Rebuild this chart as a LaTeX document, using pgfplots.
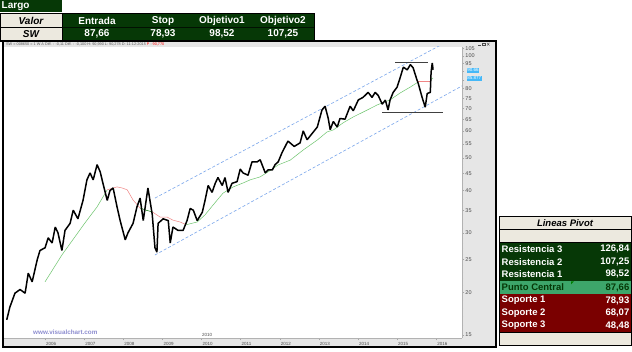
\documentclass[border=0pt]{standalone}
\usepackage{fontspec}
\setmainfont{Liberation Sans}
\usepackage{pgfplots}
\pgfplotsset{compat=1.18}
\definecolor{dkgreen}{HTML}{063806}
\definecolor{beige}{HTML}{ECE9DF}
\definecolor{midgreen}{HTML}{3DA66A}
\definecolor{dkred}{HTML}{7A0000}
\definecolor{stripgray}{HTML}{E6E6E6}
\definecolor{chanblue}{HTML}{7AA6EC}
\definecolor{tagblue}{HTML}{45B8F7}
\definecolor{magreen}{HTML}{6CC46C}
\definecolor{mared}{HTML}{F08585}
\definecolor{wwwcol}{HTML}{8E8ED0}
\begin{document}
\begin{tikzpicture}
\useasboundingbox (0,0) rectangle (632pt,-352pt);
\begin{scope}[x=1pt,y=-1pt]
  \fill[white] (3,41) rectangle (496,347);
  \fill[stripgray] (3,41) rectangle (496,47);
  \fill[stripgray] (462,41) rectangle (496,347);
  \fill[stripgray] (3,338) rectangle (496,347);
\end{scope}
\begin{axis}[
  at={(4pt,-338pt)}, anchor=south west,
  width=458pt, height=291pt, scale only axis,
  xmin=2004.95, xmax=2016.66,
  ymode=log, ymin=14.67, ymax=106.2,
  axis x line*=bottom, axis y line*=right,
  axis line style={draw=gray!60, line width=0.4pt},
  xtick={2006,2007,2008,2009,2010,2011,2012,2013,2014,2015,2016},
  xticklabels={2006,2007,2008,2009,2010,2011,2012,2013,2014,2015,2016},
  ytick={15,20,25,30,35,40,45,50,55,60,65,70,75,80,85,90,95,100,105},
  yticklabels={15,20,25,30,35,40,45,50,55,60,65,70,75,80,,,95,100,105},
  minor ytick={16,17,18,19,21,22,23,24,26,27,28,29,31,32,33,34,36,37,38,39,41,42,43,44,46,47,48,49,51,52,53,54,56,57,58,59,61,62,63,64,66,67,68,69,71,72,73,74,76,77,78,79,81,82,83,84,86,87,88,89,91,92,93,94,96,97,98,99,101,102,103,104},
  tick align=outside,
  major tick length=2.5pt, minor tick length=1.2pt,
  tick style={gray!70, line width=0.4pt},
  yticklabel style={font=\fontsize{5.5}{6}\selectfont, text=gray!60!black, inner sep=0.8pt},
  xticklabel style={font=\fontsize{4.5}{5}\selectfont, text=gray!60!black, anchor=west, inner sep=0.6pt, yshift=-3pt, xshift=0.3pt},
  /pgf/number format/assume math mode=true,
  clip=true,
]
% channel lines
\addplot[chanblue, line width=0.6pt, dash pattern=on 3pt off 2pt] coordinates {(2008.81,38.0) (2016.66,116.3)};
\addplot[chanblue, line width=0.6pt, dash pattern=on 3pt off 2pt] coordinates {(2008.81,25.8) (2016.66,81.5)};
% horizontal levels
\addplot[black!75, line width=0.8pt] coordinates {(2014.95,95.6) (2015.80,95.6)};
\addplot[black!75, line width=0.8pt] coordinates {(2014.62,68.07) (2016.18,68.07)};
% moving average segments
\addplot[magreen, line width=0.5pt] coordinates {(2006.00,21.5) (2006.43,25.8) (2007.02,32.1) (2007.33,35.8) (2007.59,40.2)};
\addplot[mared, line width=0.5pt] coordinates {(2007.59,40.2) (2007.84,41.0) (2007.97,40.7) (2008.10,40.2) (2008.25,37.5) (2008.43,35.5)};
\addplot[green!45!black, line width=0.5pt] coordinates {(2008.43,35.5) (2008.58,35.0) (2008.74,34.6)};
\addplot[mared, line width=0.5pt] coordinates {(2008.74,34.6) (2008.94,33.4) (2009.12,33.4) (2009.27,32.7) (2009.45,32.3) (2009.61,31.7)};
\addplot[magreen, line width=0.5pt] coordinates {(2009.61,31.7) (2009.89,32.3) (2010.09,33.9) (2010.30,36.3) (2010.55,39.3) (2010.81,41.0) (2011.06,42.1) (2011.24,43.0) (2011.50,43.9) (2011.70,45.4) (2011.96,47.6) (2012.27,49.2) (2012.60,52.7) (2012.96,56.4) (2013.21,59.6) (2013.37,60.4) (2013.62,63.4) (2013.88,66.0) (2014.24,69.2) (2014.49,71.6) (2014.62,72.6) (2014.82,74.1) (2015.08,77.7) (2015.34,80.9) (2015.54,83.7)};
\addplot[mared, line width=0.5pt] coordinates {(2015.54,84.3) (2015.85,84.3)};
\addplot[magreen, line width=0.5pt] coordinates {(2015.85,84.9) (2015.92,86.0)};
% price
\addplot[black, line width=1.5pt, line join=bevel] coordinates {
(2005.02,16.6) (2005.10,18.1) (2005.23,19.9) (2005.36,20.4) (2005.49,19.9) (2005.57,22.8) (2005.67,21.5) (2005.80,25.0) (2005.87,26.6) (2006.00,27.1) (2006.08,29.0) (2006.18,28.0) (2006.26,31.2) (2006.33,30.0) (2006.43,26.6) (2006.51,30.5) (2006.64,32.0) (2006.72,35.0) (2006.84,33.0) (2006.97,37.4) (2007.07,43.0) (2007.15,45.1) (2007.23,43.0) (2007.33,47.7) (2007.41,45.4) (2007.48,42.0) (2007.59,37.4) (2007.66,40.0) (2007.74,40.7) (2007.84,35.8) (2007.92,32.6) (2008.05,28.6) (2008.12,30.0) (2008.25,32.0) (2008.35,35.8) (2008.43,38.0) (2008.51,32.6) (2008.63,40.7) (2008.74,34.0) (2008.81,27.1) (2008.86,26.3) (2008.89,32.0) (2009.02,33.0) (2009.15,32.6) (2009.20,28.0) (2009.27,31.2) (2009.40,30.5) (2009.53,30.5) (2009.63,32.6) (2009.71,35.4) (2009.79,35.0) (2009.89,32.6) (2010.02,34.5) (2010.09,37.4) (2010.17,41.4) (2010.27,39.5) (2010.35,42.0) (2010.42,43.7) (2010.53,41.4) (2010.60,43.7) (2010.68,39.5) (2010.78,42.0) (2010.91,42.5) (2010.99,46.3) (2011.06,45.1) (2011.19,44.4) (2011.29,48.6) (2011.42,48.6) (2011.50,49.3) (2011.63,45.1) (2011.70,46.0) (2011.81,46.0) (2011.88,47.7) (2011.96,48.6) (2012.06,51.8) (2012.21,56.0) (2012.37,54.0) (2012.52,55.3) (2012.60,60.0) (2012.70,56.5) (2012.83,59.0) (2012.96,61.6) (2013.08,69.2) (2013.16,71.0) (2013.24,65.3) (2013.29,60.5) (2013.37,64.0) (2013.47,61.6) (2013.54,65.3) (2013.67,65.0) (2013.80,71.0) (2013.88,68.8) (2014.01,74.1) (2014.13,75.4) (2014.26,78.0) (2014.36,75.4) (2014.44,78.0) (2014.52,76.3) (2014.62,72.0) (2014.70,74.0) (2014.77,69.2) (2014.82,74.0) (2014.90,78.0) (2015.00,80.8) (2015.08,86.3) (2015.16,92.6) (2015.26,90.9) (2015.34,94.2) (2015.41,92.2) (2015.51,84.8) (2015.54,83.0) (2015.64,75.4) (2015.72,70.5) (2015.77,77.4) (2015.85,78.0) (2015.87,89.6) (2015.90,95.3) (2015.92,91.0)};
\coordinate (tagA) at (axis cs:2016.66,90.66);
\coordinate (tagB) at (axis cs:2016.66,85.877);
\coordinate (mk2010) at (axis cs:2010.0,14.67);
\end{axis}
\node[anchor=west, fill=tagblue, text=white, inner sep=0.7pt, font=\fontsize{4.5}{5}\selectfont, xshift=4.5pt] at (tagA) {90.66};
\node[anchor=west, fill=tagblue, text=white, inner sep=0.7pt, font=\fontsize{4.5}{5}\selectfont, xshift=4.5pt] at (tagB) {85.877};
\node[anchor=south west, inner sep=0.5pt, font=\fontsize{4.5}{5}\selectfont, text=gray!60!black, yshift=1pt] at (mk2010) {2010};
\begin{scope}[x=1pt,y=-1pt]
  % header strip text
  \node[anchor=west, inner sep=0pt, font=\fontsize{3.8}{4}\selectfont, text=gray!70!black] at (6,44.2) {SW = 008650 = 1 W A Diff. : -0,11 Diff. : -0,100 H: 90,990 L: 90,278 D: 11-12-2015 \textcolor{red}{P} : \textcolor{red}{90,770}};
  % window icons
  \draw[gray!60!black, line width=0.4pt] (478,45.5) -- (480.5,45.5);
  \draw[gray!60!black, line width=0.4pt] (482,42.8) rectangle (485,45.6);
  \draw[gray!60!black, line width=0.4pt] (487,42.8) -- (489.5,45.6) (487,45.6) -- (489.5,42.8);
  % watermark
  \node[anchor=west, inner sep=0pt, font=\fontsize{6.3}{7}\bfseries, text=wwwcol] at (33,332.5) {www.visualchart.com};
  % chart frame
  \draw[black, line width=1.6pt] (2.8,41) rectangle (496,347);
  % top table
  \fill[dkgreen] (0,0) rectangle (62,12.3);
  \node[anchor=west, inner sep=0pt, text=white, font=\fontsize{10}{11}\bfseries] at (1.5,6.5) {Largo};
  \fill[beige] (0,13.5) rectangle (62,41);
  \fill[dkgreen] (62,13.5) rectangle (314,41);
  \draw[black, line width=0.9pt] (0,13.5) rectangle (314,41);
  \draw[black, line width=0.9pt] (0,27.3) -- (62,27.3) (62,13.5) -- (62,41);
  \draw[black!70!dkgreen, line width=0.5pt] (62,27.3) -- (314,27.3);
  \draw[black, line width=1.6pt] (0,40.5) -- (314,40.5);
  \node[font=\fontsize{10}{11}\bfseries\itshape] at (31,20.6) {Valor};
  \node[font=\fontsize{10}{11}\bfseries\itshape] at (31,34.2) {SW};
  \begin{scope}[every node/.style={text=white, font=\fontsize{10}{11}\bfseries}]
    \node at (97,20.6) {Entrada};
    \node at (163,20.6) {Stop};
    \node at (222,20.6) {Objetivo1};
    \node at (283,20.6) {Objetivo2};
    \node at (97,34.2) {87,66};
    \node at (163,34.2) {78,93};
    \node at (222,34.2) {98,52};
    \node at (283,34.2) {107,25};
  \end{scope}
  % pivot table
  \fill[beige] (499,216) rectangle (631.5,242);
  \fill[dkgreen] (499,242) rectangle (631.5,281);
  \fill[midgreen] (499,281) rectangle (631.5,294);
  \fill[dkred] (499,294) rectangle (631.5,332);
  \fill[beige] (499,332) rectangle (631.5,345);
  \draw[black, line width=0.9pt] (499,216) rectangle (631.5,345);
  \draw[black, line width=0.6pt] (499,229) -- (631.5,229) (499,242) -- (631.5,242) (499,332) -- (631.5,332);
  \fill[green!50!black] (571,281.3) -- (574,281.3) -- (571,284.3) -- cycle;
  \node[font=\fontsize{9.5}{10}\bfseries\itshape] at (565,222.8) {Lineas Pivot};
  \begin{scope}[every node/.style={inner sep=0pt, font=\fontsize{9.5}{10}\bfseries}]
    \node[anchor=west, text=white] at (501.5,249) {Resistencia 3};
    \node[anchor=west, text=white] at (501.5,261.8) {Resistencia 2};
    \node[anchor=west, text=white] at (501.5,274.3) {Resistencia 1};
    \node[anchor=west, text=dkgreen] at (501.5,287.6) {Punto Central};
    \node[anchor=west, text=white] at (501.5,300.6) {Soporte 1};
    \node[anchor=west, text=white] at (501.5,313) {Soporte 2};
    \node[anchor=west, text=white] at (501.5,325.6) {Soporte 3};
    \node[anchor=east, text=white] at (629.5,249) {126,84};
    \node[anchor=east, text=white] at (629.5,261.8) {107,25};
    \node[anchor=east, text=white] at (629.5,274.3) {98,52};
    \node[anchor=east, text=dkgreen] at (629.5,287.6) {87,66};
    \node[anchor=east, text=white] at (629.5,300.6) {78,93};
    \node[anchor=east, text=white] at (629.5,313) {68,07};
    \node[anchor=east, text=white] at (629.5,325.6) {48,48};
  \end{scope}
\end{scope}
\end{tikzpicture}
\end{document}
